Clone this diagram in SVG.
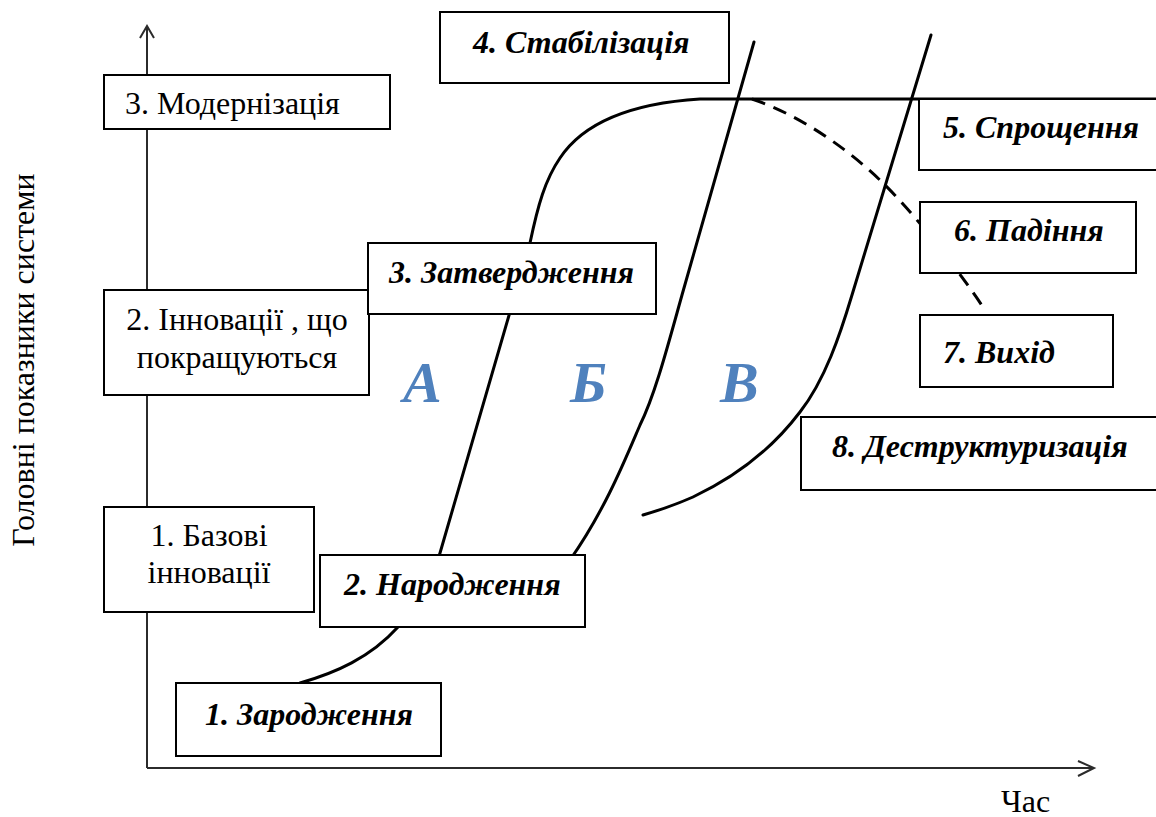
<svg xmlns="http://www.w3.org/2000/svg" width="1156" height="817" viewBox="0 0 1156 817">
  <style>
    .box { fill: #ffffff; stroke: #000000; stroke-width: 2; }
    .axis { fill: none; stroke: #2b2b2b; stroke-width: 2; }
    .curve { fill: none; stroke: #000000; stroke-width: 3; stroke-linecap: round; stroke-linejoin: round; }
    .dash { stroke-dasharray: 14 9; stroke-linecap: butt; }
    .reg { font-family: "Liberation Serif", "Times New Roman", serif; font-size: 32px; fill: #000000; }
    .stage { font-family: "Liberation Serif", "Times New Roman", serif; font-size: 32px; font-weight: bold; font-style: italic; fill: #000000; }
    .zone { font-family: "Liberation Serif", "Times New Roman", serif; font-size: 58px; font-weight: bold; font-style: italic; fill: #4f81bd; }
  </style>

  <rect width="1156" height="817" fill="#ffffff"/>

  <!-- axes -->
  <g id="axes">
    <path class="axis" d="M147,768 L147,26"/>
    <path class="axis" d="M140,38 L147,26 L154,38"/>
    <path class="axis" d="M147,768 L1094,768"/>
    <path class="axis" d="M1078,761 L1094,768 L1078,776"/>
    <text class="reg" x="1001" y="812">Час</text>
    <text class="reg" transform="translate(34,360) rotate(-90)" text-anchor="middle">Головні показники системи</text>
  </g>

  <!-- life-cycle curves -->
  <g id="connectors">
    <!-- curve A with plateau -->
    <path class="curve" d="M300,683 C335,673 370,658 398,627 C420,600 430,585 440,553 L530,243 C538,205 545,180 560,158 C580,128 620,104 700,99 L1156,99"/>
    <!-- decline (dashed) -->
    <path class="curve dash" d="M752,99 C800,115 850,150 885,185 C915,215 955,265 985,310"/>
    <!-- curve Б -->
    <path class="curve" d="M754,42 L682,295 C668,345 655,395 640,425 C625,460 605,510 570,560"/>
    <!-- curve В -->
    <path class="curve" d="M931,35 L852,295 C840,335 825,380 800,412 C775,445 740,475 693,497 C675,505 660,510 643,515"/>
  </g>

  <!-- zone letters -->
  <g id="zones">
    <text class="zone" x="403" y="402">А</text>
    <text class="zone" x="570" y="402">Б</text>
    <text class="zone" x="720" y="402">В</text>
  </g>

  <!-- innovation levels on the vertical axis -->
  <g id="node-modernization">
    <rect class="box" x="104" y="75" width="286" height="54"/>
    <text class="reg" x="125" y="114">3. Модернізація</text>
  </g>
  <g id="node-improving">
    <rect class="box" x="104" y="290" width="265" height="105"/>
    <text class="reg" x="237" y="330" text-anchor="middle">2. Інновації , що</text>
    <text class="reg" x="237" y="368" text-anchor="middle">покращуються</text>
  </g>
  <g id="node-basic">
    <rect class="box" x="104" y="507" width="210" height="105"/>
    <text class="reg" x="209" y="546" text-anchor="middle">1. Базові</text>
    <text class="reg" x="209" y="583" text-anchor="middle">інновації</text>
  </g>

  <!-- life-cycle stages -->
  <g id="node-origin">
    <rect class="box" x="176" y="683" width="265" height="73"/>
    <text class="stage" x="205" y="725">1. Зародження</text>
  </g>
  <g id="node-birth">
    <rect class="box" x="320" y="555" width="265" height="72"/>
    <text class="stage" x="344" y="595">2. Народження</text>
  </g>
  <g id="node-approval">
    <rect class="box" x="368" y="243" width="288" height="71"/>
    <text class="stage" x="389" y="283">3. Затвердження</text>
  </g>
  <g id="node-stabilization">
    <rect class="box" x="440" y="12" width="289" height="71"/>
    <text class="stage" x="473" y="53">4. Стабілізація</text>
  </g>
  <g id="node-simplification">
    <rect class="box" x="919" y="99" width="240" height="71"/>
    <text class="stage" x="943" y="138">5. Спрощення</text>
  </g>
  <g id="node-fall">
    <rect class="box" x="920" y="202" width="216" height="71"/>
    <text class="stage" x="954" y="241">6. Падіння</text>
  </g>
  <g id="node-exit">
    <rect class="box" x="920" y="315" width="193" height="72"/>
    <text class="stage" x="943" y="363">7. Вихід</text>
  </g>
  <g id="node-destructuring">
    <rect class="box" x="801" y="417" width="358" height="73"/>
    <text class="stage" x="832" y="457">8. Деструктуризація</text>
  </g>
</svg>
